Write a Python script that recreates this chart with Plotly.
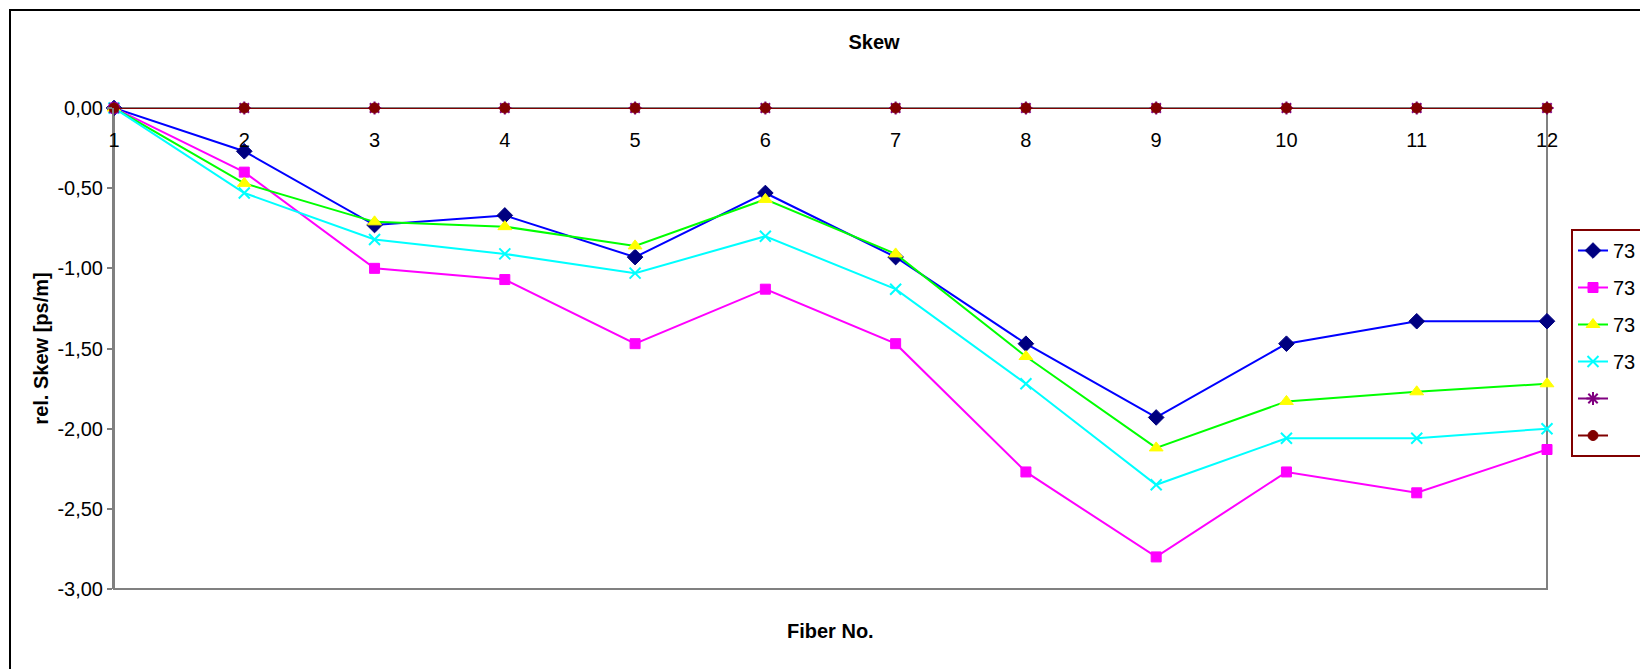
import plotly.graph_objects as go

fibers = list(range(1, 13))
s_blue = [0, -0.27, -0.73, -0.67, -0.93, -0.53, -0.93, -1.47, -1.93, -1.47, -1.33, -1.33]
s_magenta = [0, -0.40, -1.00, -1.07, -1.47, -1.13, -1.47, -2.27, -2.80, -2.27, -2.40, -2.13]
s_green = [0, -0.47, -0.71, -0.74, -0.86, -0.57, -0.91, -1.55, -2.12, -1.83, -1.77, -1.72]
s_cyan = [0, -0.53, -0.82, -0.91, -1.03, -0.80, -1.13, -1.72, -2.35, -2.06, -2.06, -2.00]
s_purple = [0] * 12
s_darkred = [0] * 12
names = ["73", "73", "73", "73", " ", " "]
y_ticks = [0, -0.5, -1.0, -1.5, -2.0, -2.5, -3.0]
y_ticktext = ["0,00", "-0,50", "-1,00", "-1,50", "-2,00", "-2,50", "-3,00"]

FONT = "Liberation Sans, Arial, sans-serif"

styles = [
    (s_blue, "#0000FF", dict(symbol="diamond", size=12, color="#000080", line=dict(color="#000080", width=1))),
    (s_magenta, "#FF00FF", dict(symbol="square", size=10, color="#FF00FF", line=dict(color="#FF00FF", width=1))),
    (s_green, "#00FF00", dict(symbol="triangle-up", size=12, color="#FFFF00", line=dict(color="#FFFF00", width=1))),
    (s_cyan, "#00FFFF", dict(symbol="x-thin-open", size=11, color="#00FFFF", line=dict(color="#00FFFF", width=2))),
    (s_purple, "#800080", dict(symbol="asterisk-open", size=11, color="#800080", line=dict(color="#800080", width=2))),
    (s_darkred, "#800000", dict(symbol="circle", size=10, color="#800000", line=dict(color="#800000", width=1))),
]

fig = go.Figure()
for i, (vals, lc, mk) in enumerate(styles):
    fig.add_trace(go.Scatter(
        x=fibers, y=vals, mode="lines+markers", name=names[i],
        line=dict(color=lc, width=2), marker=mk, cliponaxis=False,
        legendgroup=f"g{i}",
    ))

OFF = 8  # page body margin
W, H = 1648 - OFF, 669 - OFF
L, T = 114 - OFF, 108 - OFF
pw, ph = 1433, 481
R, B = W - L - pw, H - T - ph


def px_x(px):
    return (px - OFF - L) / pw


def px_y(py):
    return (T + ph - (py - OFF)) / ph


fig.update_layout(
    width=W, height=H,
    margin=dict(l=L, r=R, t=T, b=B, autoexpand=False),
    paper_bgcolor="white", plot_bgcolor="white",
    font=dict(family=FONT, size=20, color="black"),
    title=dict(text="<b>Skew</b>", x=(874 - OFF) / W, xanchor="center", xref="container",
               y=1 - (42 - OFF) / H, yanchor="middle", yref="container",
               font=dict(family=FONT, size=20, color="black")),
    showlegend=True,
    legend=dict(x=px_x(1571), y=px_y(229), xanchor="left", yanchor="top",
                bordercolor="#800000", borderwidth=2, bgcolor="white",
                font=dict(family=FONT, size=20, color="black"),
                traceorder="grouped", tracegroupgap=8, itemwidth=30),
    xaxis=dict(range=[1, 12], tickvals=fibers, ticktext=[str(f) for f in fibers],
               anchor="free", position=1, side="bottom", showline=False,
               ticks="", showgrid=False, zeroline=False,
               ticklabelstandoff=18, tickfont=dict(size=20)),
    yaxis=dict(range=[-3, 0], tickvals=y_ticks, ticktext=y_ticktext,
               showline=True, linecolor="#808080", linewidth=2,
               ticks="outside", ticklen=5, tickwidth=2, tickcolor="#808080",
               showgrid=False, zeroline=False, tickfont=dict(size=20),
               title=dict(text="<b>rel. Skew [ps/m]</b>", standoff=3,
                          font=dict(size=20))),
    shapes=[
        dict(type="rect", xref="paper", yref="paper", x0=0, x1=1, y0=0, y1=1,
             line=dict(color="#808080", width=2), layer="below"),
        dict(type="rect", xref="paper", yref="paper",
             x0=px_x(10), x1=px_x(1700), y0=px_y(700), y1=px_y(10),
             line=dict(color="black", width=2), layer="below"),
    ],
    annotations=[
        dict(text="<b>Fiber No.</b>", xref="paper", yref="paper", x=0.5, y=px_y(631),
             xanchor="center", yanchor="middle", showarrow=False,
             font=dict(family=FONT, size=20, color="black")),
    ],
)

fig.write_html("out.html")
